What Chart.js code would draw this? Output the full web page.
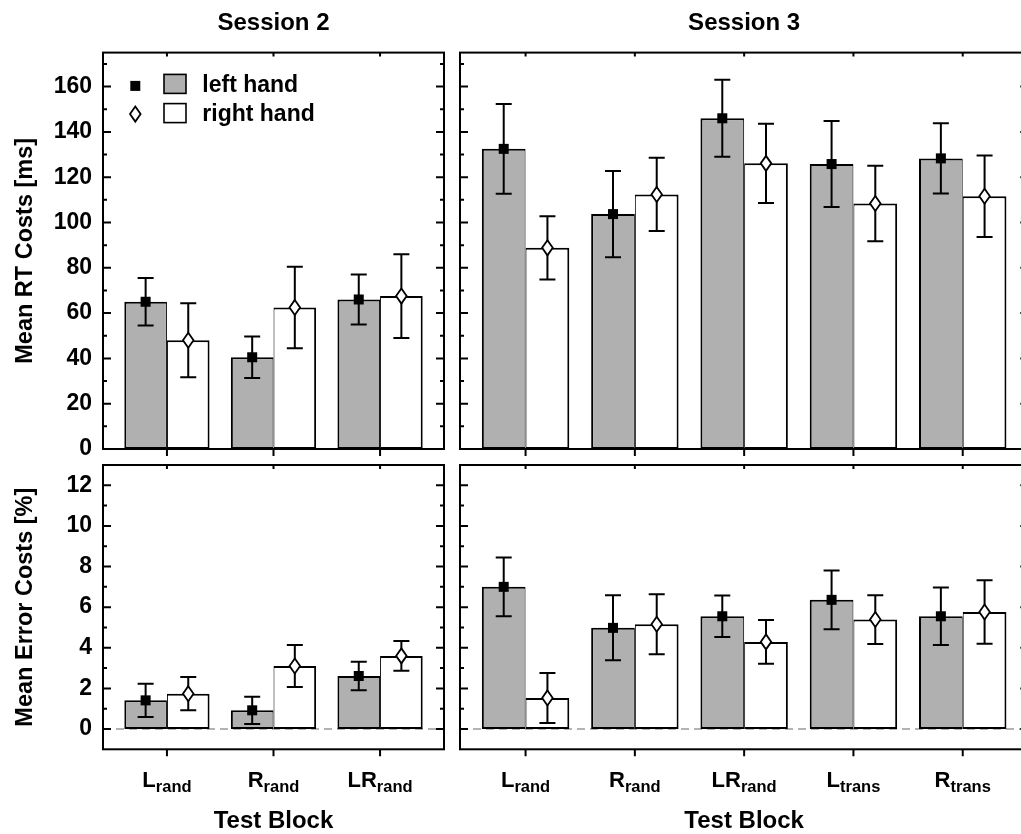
<!DOCTYPE html>
<html>
<head>
<meta charset="utf-8">
<script src="https://cdn.jsdelivr.net/npm/chart.js@4.4.1/dist/chart.umd.min.js"></script>
<style>
html,body{margin:0;padding:0;background:#fff;overflow:hidden;width:1021px;height:834px;}
#wrap{position:relative;width:1021px;height:834px;overflow:hidden;background:#fff;}
canvas{position:absolute;}
</style>
</head>
<body>
<div id="wrap">
<canvas id="tl" width="470" height="460" style="left:0px;top:0px"></canvas>
<canvas id="tr" width="600" height="460" style="left:450px;top:0px"></canvas>
<canvas id="bl" width="470" height="381" style="left:0px;top:453px"></canvas>
<canvas id="br" width="600" height="381" style="left:450px;top:453px"></canvas>
</div>
<script>
// ---------------- DATA ----------------
const categoriesS2 = ['L_rand', 'R_rand', 'LR_rand'];
const categoriesS3 = ['L_rand', 'R_rand', 'LR_rand', 'L_trans', 'R_trans'];
const seriesNames = ['left hand', 'right hand'];
const sessionTitles = ['Session 2', 'Session 3'];

// Mean RT costs [ms]
const rtS2Left = [65, 40.5, 66];
const rtS2LeftErr = [10.5, 9.2, 11];
const rtS2Right = [48, 62.5, 67.5];
const rtS2RightErr = [16.3, 18, 18.5];
const rtS3Left = [132.5, 103.7, 146, 125.8, 128.3];
const rtS3LeftErr = [19.8, 19, 17, 19, 15.5];
const rtS3Right = [88.8, 112.4, 126.1, 108.4, 111.6];
const rtS3RightErr = [14, 16.2, 17.5, 16.7, 18];

// Mean error costs [%]
const erS2Left = [1.41, 0.92, 2.61];
const erS2LeftErr = [0.82, 0.67, 0.7];
const erS2Right = [1.74, 3.1, 3.6];
const erS2RightErr = [0.82, 1.03, 0.73];
const erS3Left = [7.0, 4.98, 5.55, 6.36, 5.55];
const erS3LeftErr = [1.45, 1.6, 1.02, 1.45, 1.42];
const erS3Right = [1.53, 5.16, 4.29, 5.39, 5.76];
const erS3RightErr = [1.23, 1.48, 1.08, 1.2, 1.56];

// Tick labels
const rtTicks = [0, 20, 40, 60, 80, 100, 120, 140, 160];
const erTicks = [0, 2, 4, 6, 8, 10, 12];

// ---------------- STYLE ----------------
const FONT = '"Liberation Sans", Arial, Helvetica, sans-serif';
Chart.defaults.font.family = FONT;
Chart.defaults.font.weight = 'bold';
Chart.defaults.color = '#000';
const LEFT_FILL = '#b0b0b0';
const RIGHT_FILL = '#ffffff';

function drawMarker(ctx, type, cx, cy) {
  ctx.save();
  ctx.setLineDash([]);
  if (type === 'square') {
    ctx.fillStyle = '#000';
    ctx.fillRect(cx - 5, cy - 5, 10, 10);
  } else {
    ctx.beginPath();
    ctx.moveTo(cx, cy - 7.5);
    ctx.lineTo(cx + 5.3, cy);
    ctx.lineTo(cx, cy + 7.5);
    ctx.lineTo(cx - 5.3, cy);
    ctx.closePath();
    ctx.fillStyle = '#fff';
    ctx.fill();
    ctx.strokeStyle = '#000';
    ctx.lineWidth = 1.8;
    ctx.stroke();
  }
  ctx.restore();
}

const panelPlugin = {
  id: 'panel',
  beforeDatasetsDraw(chart, args, o) {
    if (!o.zeroLine) return;
    const {ctx, chartArea: a, scales: {y}} = chart;
    const py = y.getPixelForValue(0);
    ctx.save();
    ctx.strokeStyle = '#9a9a9a';
    ctx.lineWidth = 1.5;
    ctx.setLineDash([8, 5]);
    ctx.beginPath();
    ctx.moveTo(a.left, py);
    ctx.lineTo(a.right, py);
    ctx.stroke();
    ctx.restore();
  },
  afterDatasetsDraw(chart, args, o) {
    const {ctx, chartArea: a, scales: {x, y}} = chart;
    ctx.save();
    // error bars and markers
    chart.data.datasets.forEach((ds, di) => {
      const meta = chart.getDatasetMeta(di);
      meta.data.forEach((bar, i) => {
        const v = ds.data[i].y, e = ds.errors[i];
        const cx = bar.x;
        const yt = y.getPixelForValue(v + e);
        const yb = y.getPixelForValue(v - e);
        const ym = y.getPixelForValue(v);
        ctx.strokeStyle = '#000';
        ctx.lineWidth = 2;
        ctx.setLineDash([]);
        ctx.beginPath();
        ctx.moveTo(cx, yt); ctx.lineTo(cx, yb);
        ctx.moveTo(cx - 8, yt); ctx.lineTo(cx + 8, yt);
        ctx.moveTo(cx - 8, yb); ctx.lineTo(cx + 8, yb);
        ctx.stroke();
        drawMarker(ctx, ds.marker, cx, ym);
      });
    });
    // frame
    ctx.strokeStyle = '#000';
    ctx.lineWidth = 2;
    ctx.setLineDash([]);
    ctx.strokeRect(a.left, a.top, a.right - a.left, a.bottom - a.top);
    // y ticks (major + minor), inward on both sides
    ctx.beginPath();
    const yt = y.ticks;
    yt.forEach(t => {
      const py = y.getPixelForValue(t.value);
      ctx.moveTo(a.left, py); ctx.lineTo(a.left + 8, py);
      ctx.moveTo(a.right, py); ctx.lineTo(a.right - 8, py);
    });
    if (yt.length > 1) {
      const step = yt[1].value - yt[0].value;
      for (let v = yt[0].value - step / 2; v < y.max; v += step) {
        if (v <= y.min + 1e-9 || v >= y.max - 1e-9) continue;
        const py = y.getPixelForValue(v);
        ctx.moveTo(a.left, py); ctx.lineTo(a.left + 4, py);
        ctx.moveTo(a.right, py); ctx.lineTo(a.right - 4, py);
      }
    }
    // x ticks: inward on top, outward on bottom
    x.ticks.forEach(t => {
      const px = x.getPixelForValue(t.value);
      ctx.moveTo(px, a.top); ctx.lineTo(px, a.top + 4);
      ctx.moveTo(px, a.bottom); ctx.lineTo(px, a.bottom + 7);
    });
    ctx.stroke();
    // category labels with subscripts
    if (o.xLabels) {
      const mainFont = 'bold 22px ' + FONT;
      const subFont = 'bold 16.5px ' + FONT;
      ctx.fillStyle = '#000';
      ctx.textBaseline = 'alphabetic';
      ctx.textAlign = 'left';
      x.ticks.forEach(t => {
        const label = chart.data.labels[t.value];
        const parts = label.split('_');
        ctx.font = mainFont;
        const w1 = ctx.measureText(parts[0]).width;
        ctx.font = subFont;
        const w2 = parts[1] ? ctx.measureText(parts[1]).width : 0;
        const px = x.getPixelForValue(t.value);
        const x0 = px - (w1 + w2) / 2;
        const base = a.bottom + 37.5;
        ctx.font = mainFont;
        ctx.fillText(parts[0], x0, base);
        if (parts[1]) {
          ctx.font = subFont;
          ctx.fillText(parts[1], x0 + w1, base + 5);
        }
      });
    }
    // legend
    if (o.legend) {
      const L = o.legend;
      chart.data.datasets.forEach((ds, k) => {
        const cy = a.top + L.rowY[k];
        drawMarker(ctx, ds.marker, a.left + L.markerX, cy + (ds.marker === 'square' ? 2 : 1));
        ctx.fillStyle = ds.backgroundColor;
        ctx.fillRect(a.left + L.boxX, cy - L.boxH / 2, L.boxW, L.boxH);
        ctx.strokeStyle = '#000';
        ctx.lineWidth = 1.6;
        ctx.strokeRect(a.left + L.boxX, cy - L.boxH / 2, L.boxW, L.boxH);
        ctx.fillStyle = '#000';
        ctx.font = 'bold 23px ' + FONT;
        ctx.textAlign = 'left';
        ctx.textBaseline = 'alphabetic';
        ctx.fillText(ds.label, a.left + L.textX, cy + 8);
      });
    }
    ctx.restore();
  }
};

function makeDatasets(lv, le, rv, re) {
  return [
    {
      label: seriesNames[0],
      data: lv.map((v, i) => ({x: i, y: v})),
      errors: le,
      marker: 'square',
      backgroundColor: LEFT_FILL,
      borderColor: '#000',
      borderWidth: {top: 2, left: 2, bottom: 2, right: 1},
      borderSkipped: false
    },
    {
      label: seriesNames[1],
      data: rv.map((v, i) => ({x: i, y: v})),
      errors: re,
      marker: 'diamond',
      backgroundColor: RIGHT_FILL,
      borderColor: '#000',
      borderWidth: {top: 2, left: 1, bottom: 2, right: 2},
      borderSkipped: false
    }
  ];
}

function build(id, c) {
  return new Chart(document.getElementById(id), {
    type: 'bar',
    data: {labels: c.categories, datasets: c.datasets},
    options: {
      responsive: false,
      animation: false,
      devicePixelRatio: 1,
      events: [],
      layout: {padding: c.padding},
      datasets: {bar: {categoryPercentage: 0.8, barPercentage: 1.0, inflateAmount: 0}},
      plugins: {
        legend: {display: false},
        tooltip: {enabled: false},
        title: c.title ? {
          display: true, text: c.title, fullSize: false, color: '#000',
          font: {size: 24, weight: 'bold', lineHeight: 1.2},
          padding: {top: 9, bottom: 14.8}
        } : {display: false},
        panel: {zeroLine: c.zeroLine, xLabels: c.xLabels, legend: c.legend || null}
      },
      scales: {
        x: {
          type: 'linear',
          min: -0.6,
          max: c.categories.length - 0.4,
          offset: false,
          grid: {display: false, drawTicks: false},
          border: {display: false},
          ticks: {display: false},
          afterBuildTicks: s => { s.ticks = c.categories.map((_, i) => ({value: i})); },
          afterFit: s => { s.height = c.xHeight; s.paddingLeft = 0; s.paddingRight = 0; },
          title: c.xTitle ? {
            display: true, text: c.xTitle, color: '#000',
            font: {size: 24, weight: 'bold', lineHeight: 1},
            padding: {top: 0, bottom: 1}
          } : {display: false}
        },
        y: {
          type: 'linear',
          min: c.yMin,
          max: c.yMax,
          grid: {display: false, drawTicks: false},
          border: {display: false},
          ticks: {display: c.showY, padding: 11, color: '#000', font: {size: 23, weight: 'bold'}},
          afterBuildTicks: s => { s.ticks = c.yTicks.map(v => ({value: v})); },
          afterFit: s => { s.width = c.yWidth; s.paddingTop = 0; s.paddingBottom = 0; },
          title: c.yTitle ? {
            display: true, text: c.yTitle, color: '#000',
            font: {size: 23.5, weight: 'bold', lineHeight: 1.2},
            padding: {top: 11, bottom: 0}
          } : {display: false}
        }
      }
    },
    plugins: [panelPlugin]
  });
}

const legendLayout = {rowY: [31.3, 60.5], markerX: 32.3, boxX: 61, boxW: 22, boxH: 19, textX: 99.3};

build('tl', {
  categories: categoriesS2, datasets: makeDatasets(rtS2Left, rtS2LeftErr, rtS2Right, rtS2RightErr),
  padding: {left: 0, right: 26, top: 0, bottom: 0}, title: sessionTitles[0],
  yMin: 0, yMax: 175, yTicks: rtTicks, showY: true, yWidth: 103, yTitle: 'Mean RT Costs [ms]',
  xHeight: 11, xLabels: false, zeroLine: false, legend: legendLayout
});
build('tr', {
  categories: categoriesS3, datasets: makeDatasets(rtS3Left, rtS3LeftErr, rtS3Right, rtS3RightErr),
  padding: {left: 0, right: 21.7, top: 0, bottom: 0}, title: sessionTitles[1],
  yMin: 0, yMax: 175, yTicks: rtTicks, showY: false, yWidth: 10, yTitle: null,
  xHeight: 11, xLabels: false, zeroLine: false
});
build('bl', {
  categories: categoriesS2, datasets: makeDatasets(erS2Left, erS2LeftErr, erS2Right, erS2RightErr),
  padding: {left: 0, right: 26, top: 12, bottom: 0}, title: null,
  yMin: -1, yMax: 13, yTicks: erTicks, showY: true, yWidth: 103, yTitle: 'Mean Error Costs [%]',
  xHeight: 84.7, xLabels: true, xTitle: 'Test Block', zeroLine: true
});
build('br', {
  categories: categoriesS3, datasets: makeDatasets(erS3Left, erS3LeftErr, erS3Right, erS3RightErr),
  padding: {left: 0, right: 21.7, top: 12, bottom: 0}, title: null,
  yMin: -1, yMax: 13, yTicks: erTicks, showY: false, yWidth: 10, yTitle: null,
  xHeight: 84.7, xLabels: true, xTitle: 'Test Block', zeroLine: true
});
</script>
</body>
</html>
